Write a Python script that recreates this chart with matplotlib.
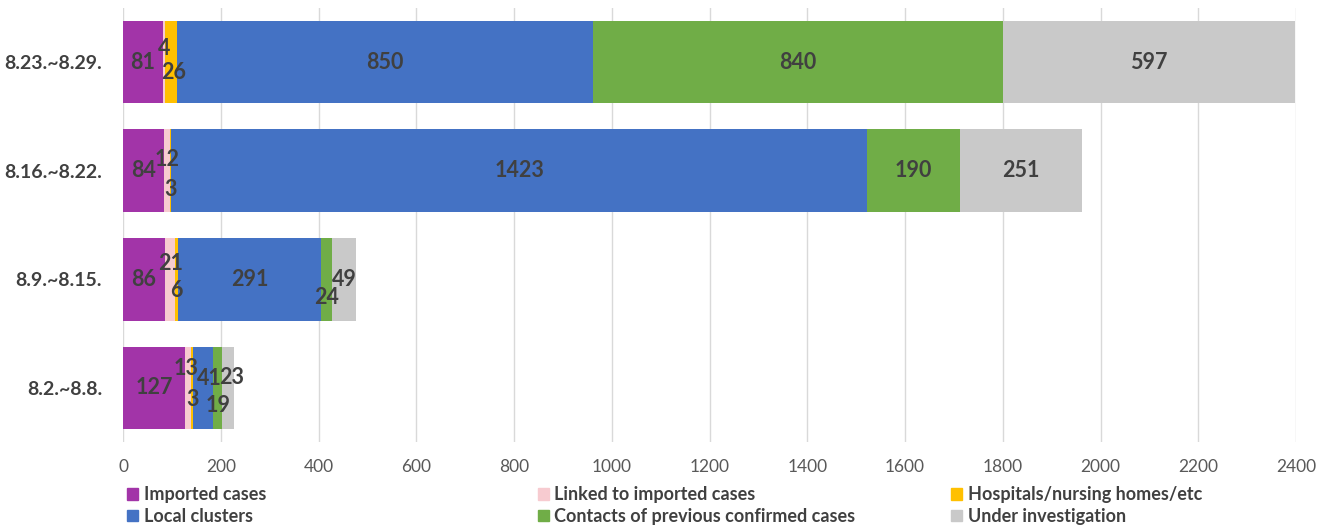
import matplotlib.pyplot as plt
from matplotlib.patches import Patch
import numpy as np

# weeks, bottom to top
weeks = ['8.2.~8.8.', '8.9.~8.15.', '8.16.~8.22.', '8.23.~8.29.']

imported = [127, 86, 84, 81]
linked = [13, 21, 12, 4]
hospitals = [3, 6, 3, 26]
local = [41, 291, 1423, 850]
contacts = [19, 24, 190, 840]
under = [23, 49, 251, 597]

series = [
    ('Imported cases', imported, '#A234A8'),
    ('Linked to imported cases', linked, '#F7CBD0'),
    ('Hospitals/nursing homes/etc', hospitals, '#FFC000'),
    ('Local clusters', local, '#4472C4'),
    ('Contacts of previous confirmed cases', contacts, '#70AD47'),
    ('Under investigation', under, '#C9C9C9'),
]

# label nudges in pixels (dx, dy; up is +) so small labels don't pile up, [week][series]
nudge = [
    [(0, 0), (-2, 19), (0, -12), (6, 9), (0, -18), (4, 10)],
    [(0, 0), (0, 16), (0, -11), (0, 0), (0, -18), (0, 0)],
    [(0, 0), (0, 11), (0, -19), (0, 0), (0, 0), (0, 0)],
    [(0, 0), (0, 14), (3, -10), (0, 0), (0, 0), (0, 0)],
]

plt.rcParams['font.family'] = ['Lato', 'DejaVu Sans']
txt = '#404040'

fig = plt.figure(figsize=(13.29, 5.27), dpi=100)
ax = fig.add_axes([0.0926, 0.161, 0.8826, 0.824])

y = np.arange(len(weeks))
left = np.zeros(len(weeks))
for si, (name, vals, col) in enumerate(series):
    ax.barh(y, vals, left=left, height=0.76, color=col, zorder=2)
    for wi, v in enumerate(vals):
        dx, dy = nudge[wi][si]
        ax.annotate(str(v), (left[wi] + v / 2, y[wi]),
                    xytext=(dx * 0.72, dy * 0.72), textcoords='offset points',
                    ha='center', va='center', fontsize=15.5, fontweight='bold',
                    color=txt, zorder=3)
    left = left + np.array(vals)

ax.set_xlim(0, 2400)
ax.set_ylim(-0.5, len(weeks) - 0.5)
ax.set_xticks(range(0, 2401, 200))
ax.set_yticks(y)
ax.set_yticklabels(weeks, fontsize=14, fontweight='bold', color=txt)
ax.tick_params(axis='x', labelsize=12.5, colors='#595959', length=0, pad=12)
ax.tick_params(axis='y', length=0, pad=15)
ax.grid(axis='x', color='#D9D9D9', linewidth=1, zorder=0)
for s in ax.spines.values():
    s.set_visible(False)

# legend: three columns placed by hand, two rows each
cols_x = [0.089, 0.398, 0.709]
for ci, cx in enumerate(cols_x):
    pair = [series[ci], series[ci + 3]]
    handles = [Patch(color=c) for _, _, c in pair]
    leg = fig.legend(handles, [n for n, _, _ in pair], loc='upper left',
                     bbox_to_anchor=(cx, 0.094), frameon=False,
                     handlelength=0.6, handleheight=0.6, handletextpad=0.3,
                     labelspacing=0.25, borderpad=0,
                     prop={'size': 13, 'weight': 'bold'})
    for t in leg.get_texts():
        t.set_color(txt)

fig.savefig('out.png', dpi=100)
